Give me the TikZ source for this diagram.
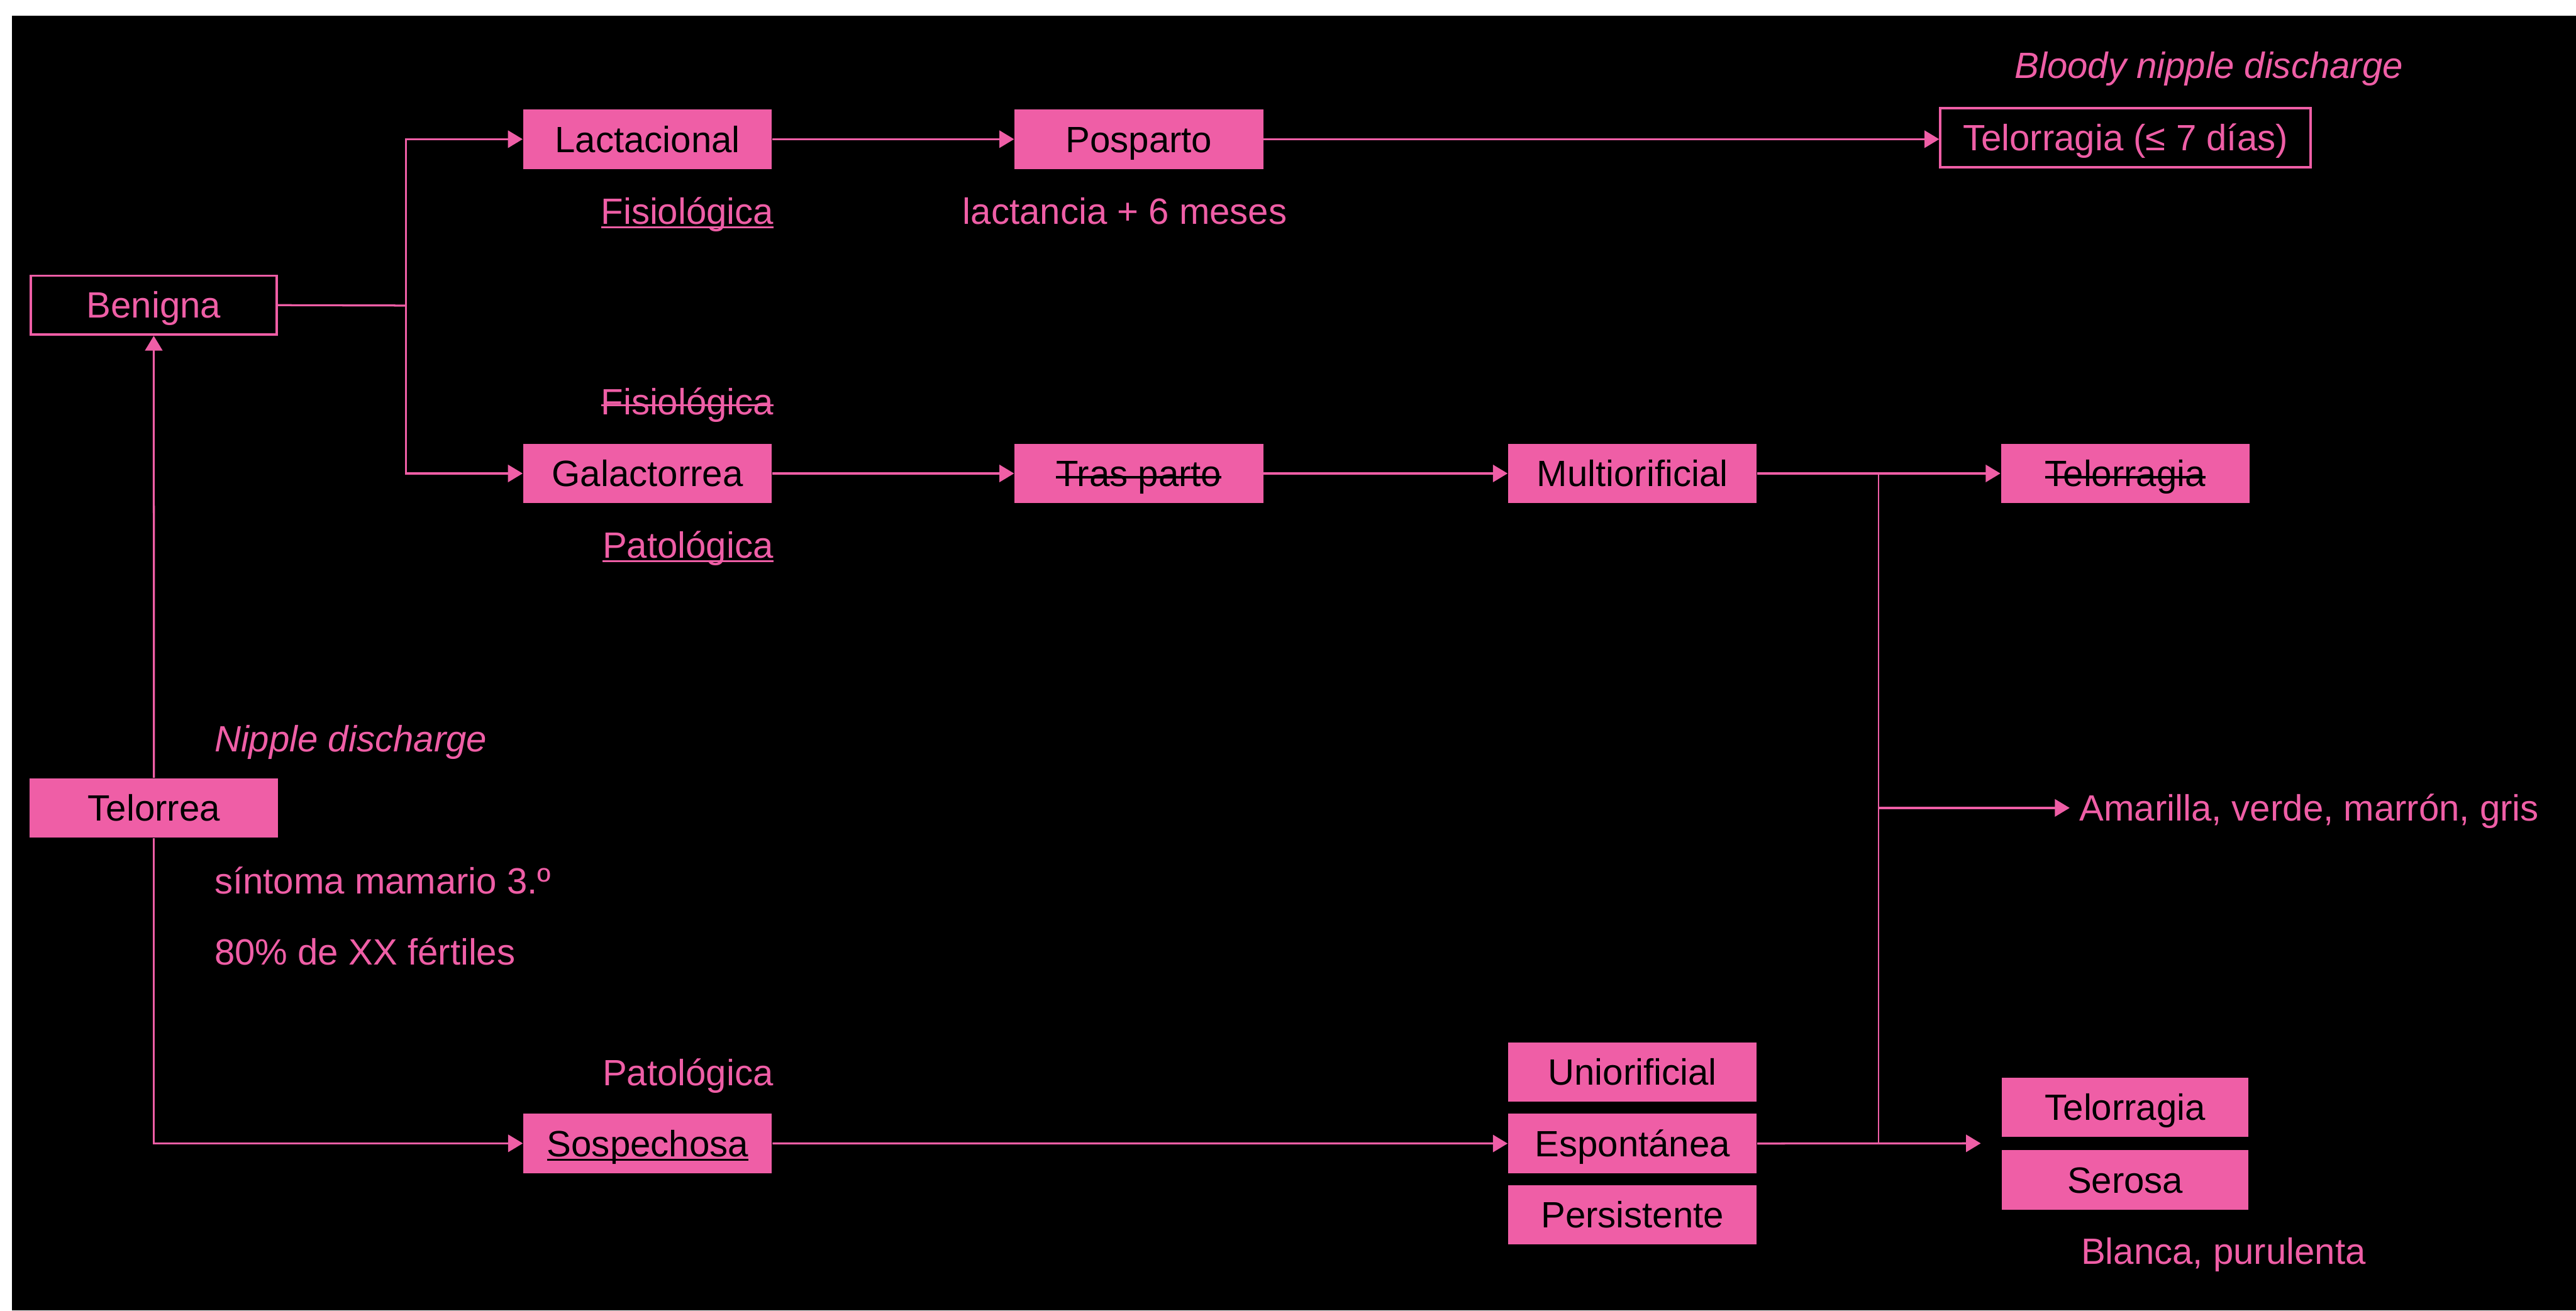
\documentclass[tikz,border=0pt]{standalone}
\usepackage{fontspec}
\setmainfont{Liberation Sans}
\usetikzlibrary{arrows.meta}
\definecolor{rosa}{RGB}{239,94,166}
\def\subr#1{\setbox0\hbox{#1}\rlap{\rule[-1.5pt]{\wd0}{0.6pt}}\box0}
\def\tach#1{\setbox0\hbox{#1}\rlap{\rule[3pt]{\wd0}{0.75pt}}\box0}

\begin{document}
\begin{tikzpicture}[x=0.5cm, y=-0.5cm, font=\fontsize{13.4}{16}\selectfont,
	caja/.style={fill=rosa, text=black, minimum width=3.2cm, minimum height=0.765cm, inner sep=0pt, text height=0.335cm, text depth=0pt},
	marco/.style={draw=rosa, line width=0.85pt, text=rosa, minimum width=3.17cm, minimum height=0.76cm, inner sep=0pt, text height=0.335cm, text depth=0pt},
	etiq/.style={text=rosa, inner sep=0pt},
	linea/.style={draw=rosa, line width=0.75pt},
	flecha/.style={linea, -{Triangle[length=5.4pt,width=6.3pt]}}]
			%%%%% START %%%%%
			
			\fill[white] (0, 0) rectangle (66.34, 33.76);
			\fill[black] (0.31, 0.41) rectangle (66.34, 33.76);
			
			\node[marco] (benigna) at (3.96, 7.86) {Benigna};
			\node[caja] (telorrea) at (3.965, 20.815) {Telorrea};
			
			\node[caja] (lact) at (16.675, 3.585) {Lactacional};
			\node[caja] (posparto) at (29.33, 3.585) {Posparto};
			\node[marco, minimum width=4.765cm] (telo7) at (54.735, 3.55) {Telorragia (≤ 7 días)};
			
			\node[caja] (galac) at (16.675, 12.195) {Galactorrea};
			\node[caja] (traspar) at (29.33, 12.195) {\tach{Tras parto}};
			\node[caja] (multi) at (42.04, 12.195) {Multiorificial};
			\node[caja] (telotach) at (54.73, 12.195) {\tach{Telorragia}};
			
			\node[caja] (sosp) at (16.68, 29.45) {\subr{Sospechosa}};
			\node[caja] (uni) at (42.04, 27.61) {Uniorificial};
			\node[caja] (espon) at (42.04, 29.455) {Espontánea};
			\node[caja] (persis) at (42.04, 31.29) {Persistente};
			\node[caja, minimum width=3.17cm] (telobaja) at (54.73, 28.525) {Telorragia};
			\node[caja, minimum width=3.17cm] (serosa) at (54.73, 30.395) {Serosa};
			
			\node[etiq, anchor=base east] (fisioA) at (19.94, 5.77) {\subr{Fisiológica}};
			\node[etiq, anchor=base west] (lactmas) at (24.78, 5.77) {lactancia + 6 meses};
			\node[etiq, anchor=base west] (bloody) at (51.87, 2.02) {\textit{Bloody nipple discharge}};
			\node[etiq, anchor=base east] (fisioB) at (19.94, 10.68) {\tach{Fisiológica}};
			\node[etiq, anchor=base east] (patoA) at (19.93, 14.37) {\subr{Patológica}};
			\node[etiq, anchor=base west] (nipple) at (5.51, 19.36) {\textit{Nipple discharge}};
			\node[etiq, anchor=base west] (sintoma) at (5.51, 23.03) {síntoma mamario 3.º};
			\node[etiq, anchor=base west] (ochenta) at (5.51, 24.85) {80\% de XX fértiles};
			\node[etiq, anchor=base east] (patoB) at (19.93, 27.97) {Patológica};
			\node[etiq, anchor=west, inner xsep=0.12cm, text height=0.335cm, text depth=0pt] (amar) at (53.30, 20.81) {Amarilla, verde, marrón, gris};
			\node[etiq, anchor=base west] (blanca) at (53.58, 32.56) {Blanca, purulenta};
			
			\coordinate (jb) at (10.45, 7.87);
			\coordinate (jm) at (48.38, 12.195);
			\coordinate (ja) at (48.38, 20.81);
			\coordinate (js) at (48.38, 29.45);
			\coordinate (esptip) at (51.01, 29.45);
			
			\draw[linea] (benigna.east) -- (jb);
			\draw[flecha] (jb) |- (lact.west);
			\draw[flecha] (jb) |- (galac.west);
			\draw[flecha] (lact) -- (posparto);
			\draw[flecha] (posparto.east) -- (posparto.east -| telo7.west);
			
			\draw[flecha] (galac) -- (traspar);
			\draw[flecha] (traspar) -- (multi);
			\draw[flecha] (multi) -- (telotach);
			
			\draw[flecha] (telorrea.north) -- (benigna.south);
			\draw[flecha] (telorrea.south) |- (sosp.west);
			\draw[flecha] (sosp) -- (espon);
			\draw[flecha] (espon.east) -- (esptip);
			
			\draw[linea, line width=0.45pt] (jm) -- (js);
			\draw[flecha] (ja) -- (amar.west);
			
			%%%%% END %%%%%
\end{tikzpicture}
\end{document}
